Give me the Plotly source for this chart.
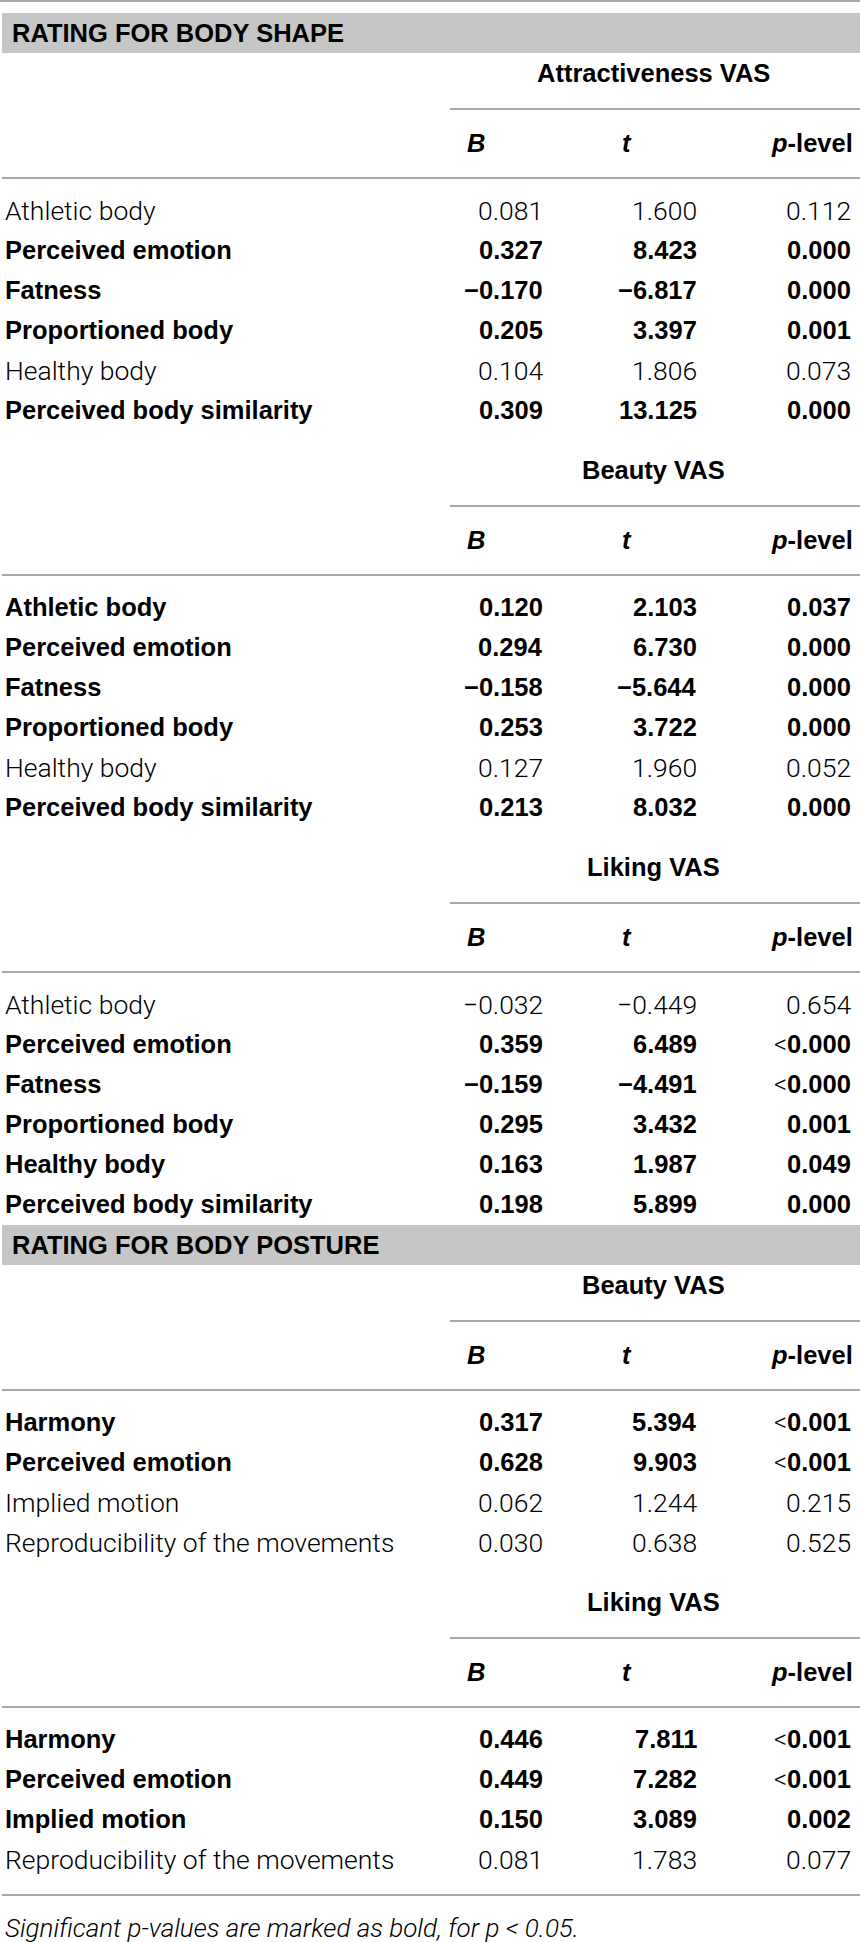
import plotly.graph_objects as go

# ---------------- data ----------------
section_titles = ["RATING FOR BODY SHAPE", "RATING FOR BODY POSTURE"]
column_headers = ["<i>B</i>", "<i>t</i>", "<i>p</i>-level"]

shape_predictors = ["Athletic body", "Perceived emotion", "Fatness",
                    "Proportioned body", "Healthy body", "Perceived body similarity"]
posture_predictors = ["Harmony", "Perceived emotion", "Implied motion",
                      "Reproducibility of the movements"]

attr_title = "Attractiveness VAS"
attr_B = [0.081, 0.327, -0.170, 0.205, 0.104, 0.309]
attr_t = [1.600, 8.423, -6.817, 3.397, 1.806, 13.125]
attr_p = [0.112, 0.000, 0.000, 0.001, 0.073, 0.000]
attr_lt = [False, False, False, False, False, False]

beauty_shape_title = "Beauty VAS"
beauty_shape_B = [0.120, 0.294, -0.158, 0.253, 0.127, 0.213]
beauty_shape_t = [2.103, 6.730, -5.644, 3.722, 1.960, 8.032]
beauty_shape_p = [0.037, 0.000, 0.000, 0.000, 0.052, 0.000]
beauty_shape_lt = [False, False, False, False, False, False]

liking_shape_title = "Liking VAS"
liking_shape_B = [-0.032, 0.359, -0.159, 0.295, 0.163, 0.198]
liking_shape_t = [-0.449, 6.489, -4.491, 3.432, 1.987, 5.899]
liking_shape_p = [0.654, 0.000, 0.000, 0.001, 0.049, 0.000]
liking_shape_lt = [False, True, True, False, False, False]

beauty_posture_title = "Beauty VAS"
beauty_posture_B = [0.317, 0.628, 0.062, 0.030]
beauty_posture_t = [5.394, 9.903, 1.244, 0.638]
beauty_posture_p = [0.001, 0.001, 0.215, 0.525]
beauty_posture_lt = [True, True, False, False]

liking_posture_title = "Liking VAS"
liking_posture_B = [0.446, 0.449, 0.150, 0.081]
liking_posture_t = [7.811, 7.282, 3.089, 1.783]
liking_posture_p = [0.001, 0.001, 0.002, 0.077]
liking_posture_lt = [True, True, False, False]

footnote = "Significant p-values are marked as bold, for p &lt; 0.05."
alpha = 0.05

blocks = [
    (0, attr_title, shape_predictors, attr_B, attr_t, attr_p, attr_lt),
    (0, beauty_shape_title, shape_predictors, beauty_shape_B, beauty_shape_t, beauty_shape_p, beauty_shape_lt),
    (0, liking_shape_title, shape_predictors, liking_shape_B, liking_shape_t, liking_shape_p, liking_shape_lt),
    (1, beauty_posture_title, posture_predictors, beauty_posture_B, beauty_posture_t, beauty_posture_p, beauty_posture_lt),
    (1, liking_posture_title, posture_predictors, liking_posture_B, liking_posture_t, liking_posture_p, liking_posture_lt),
]

# ---------------- style / geometry ----------------
W, H = 860, 1942
LIGHT = dict(family="Roboto, Liberation Sans, sans-serif", size=26.5, color="#000000", weight=300)
BOLD = dict(family="Liberation Sans, Arial, sans-serif", size=25.5, color="#000000", weight="bold")
FOOT = dict(family="Roboto, Liberation Sans, sans-serif", size=26, color="#000000", weight=300)
LINE_COLOR = "#a9a9a9"
BAND_COLOR = "#c6c6c6"
X_LEFT = 3
X_COLS_RIGHT = [545, 699, 853]
X_HEAD_LEFT = [465, 620]
X_HEAD_P_RIGHT = 855
X_SUB_LINE = 450
X_VAS_CENTER = 653
ROW_STEP = 40
LT_SPAN = '<span style="font-family:Roboto;font-weight:300">&lt;</span>'


def fmt(v):
    return ("\u2212" if v < 0 else "") + f"{abs(v):.3f}"


shapes = []
annotations = []


def hline(y, x0):
    shapes.append(dict(type="line", xref="x", yref="y", x0=x0, x1=W, y0=y, y1=y,
                       line=dict(color=LINE_COLOR, width=2)))


def text(x, y, s, font, anchor="left"):
    annotations.append(dict(xref="x", yref="y", x=x, y=y, text=s, showarrow=False,
                            xanchor=anchor, yanchor="middle", font=font,
                            align=anchor if anchor != "center" else "center"))


hline(1, 0)
current_section = None
last_row = None
for sec, title, preds, Bs, ts, ps, lts in blocks:
    if sec != current_section:
        band_top = 13 if last_row is None else last_row + 21
        shapes.append(dict(type="rect", xref="x", yref="y", x0=2, x1=W, y0=band_top,
                           y1=band_top + 40, fillcolor=BAND_COLOR, line=dict(width=0),
                           layer="below"))
        text(10, band_top + 20, section_titles[sec], BOLD)
        label_y = band_top + 60
        current_section = sec
    else:
        label_y = last_row + 60
    text(X_VAS_CENTER, label_y, title, BOLD, "center")
    hline(label_y + 36, X_SUB_LINE)
    head_y = label_y + 70
    text(X_HEAD_LEFT[0], head_y, column_headers[0], BOLD)
    text(X_HEAD_LEFT[1], head_y, column_headers[1], BOLD)
    text(X_HEAD_P_RIGHT, head_y, column_headers[2], BOLD, "right")
    hline(head_y + 35, 2)
    row_y = head_y + 67
    for i, name in enumerate(preds):
        y = row_y + i * ROW_STEP
        sig = ps[i] < alpha
        f = BOLD if sig else LIGHT
        text(X_LEFT, y, name, f)
        text(X_COLS_RIGHT[0], y, fmt(Bs[i]), f, "right")
        text(X_COLS_RIGHT[1], y, fmt(ts[i]), f, "right")
        ptxt = fmt(ps[i])
        if lts[i]:
            ptxt = LT_SPAN + ptxt
        text(X_COLS_RIGHT[2], y, ptxt, f, "right")
        last_row = y

hline(last_row + 36, 2)
text(X_LEFT, last_row + 69, "<i>" + footnote + "</i>", FOOT)

fig = go.Figure()
fig.update_layout(
    width=W, height=H,
    margin=dict(l=0, r=0, t=0, b=0),
    paper_bgcolor="white", plot_bgcolor="white",
    xaxis=dict(range=[0, W], visible=False, fixedrange=True),
    yaxis=dict(range=[H, 0], visible=False, fixedrange=True),
    shapes=shapes, annotations=annotations, showlegend=False,
)
fig.write_html(
    "out.html",
    config={"displayModeBar": False},
    post_script="document.body.style.margin='0';document.body.style.overflow='hidden';",
)
